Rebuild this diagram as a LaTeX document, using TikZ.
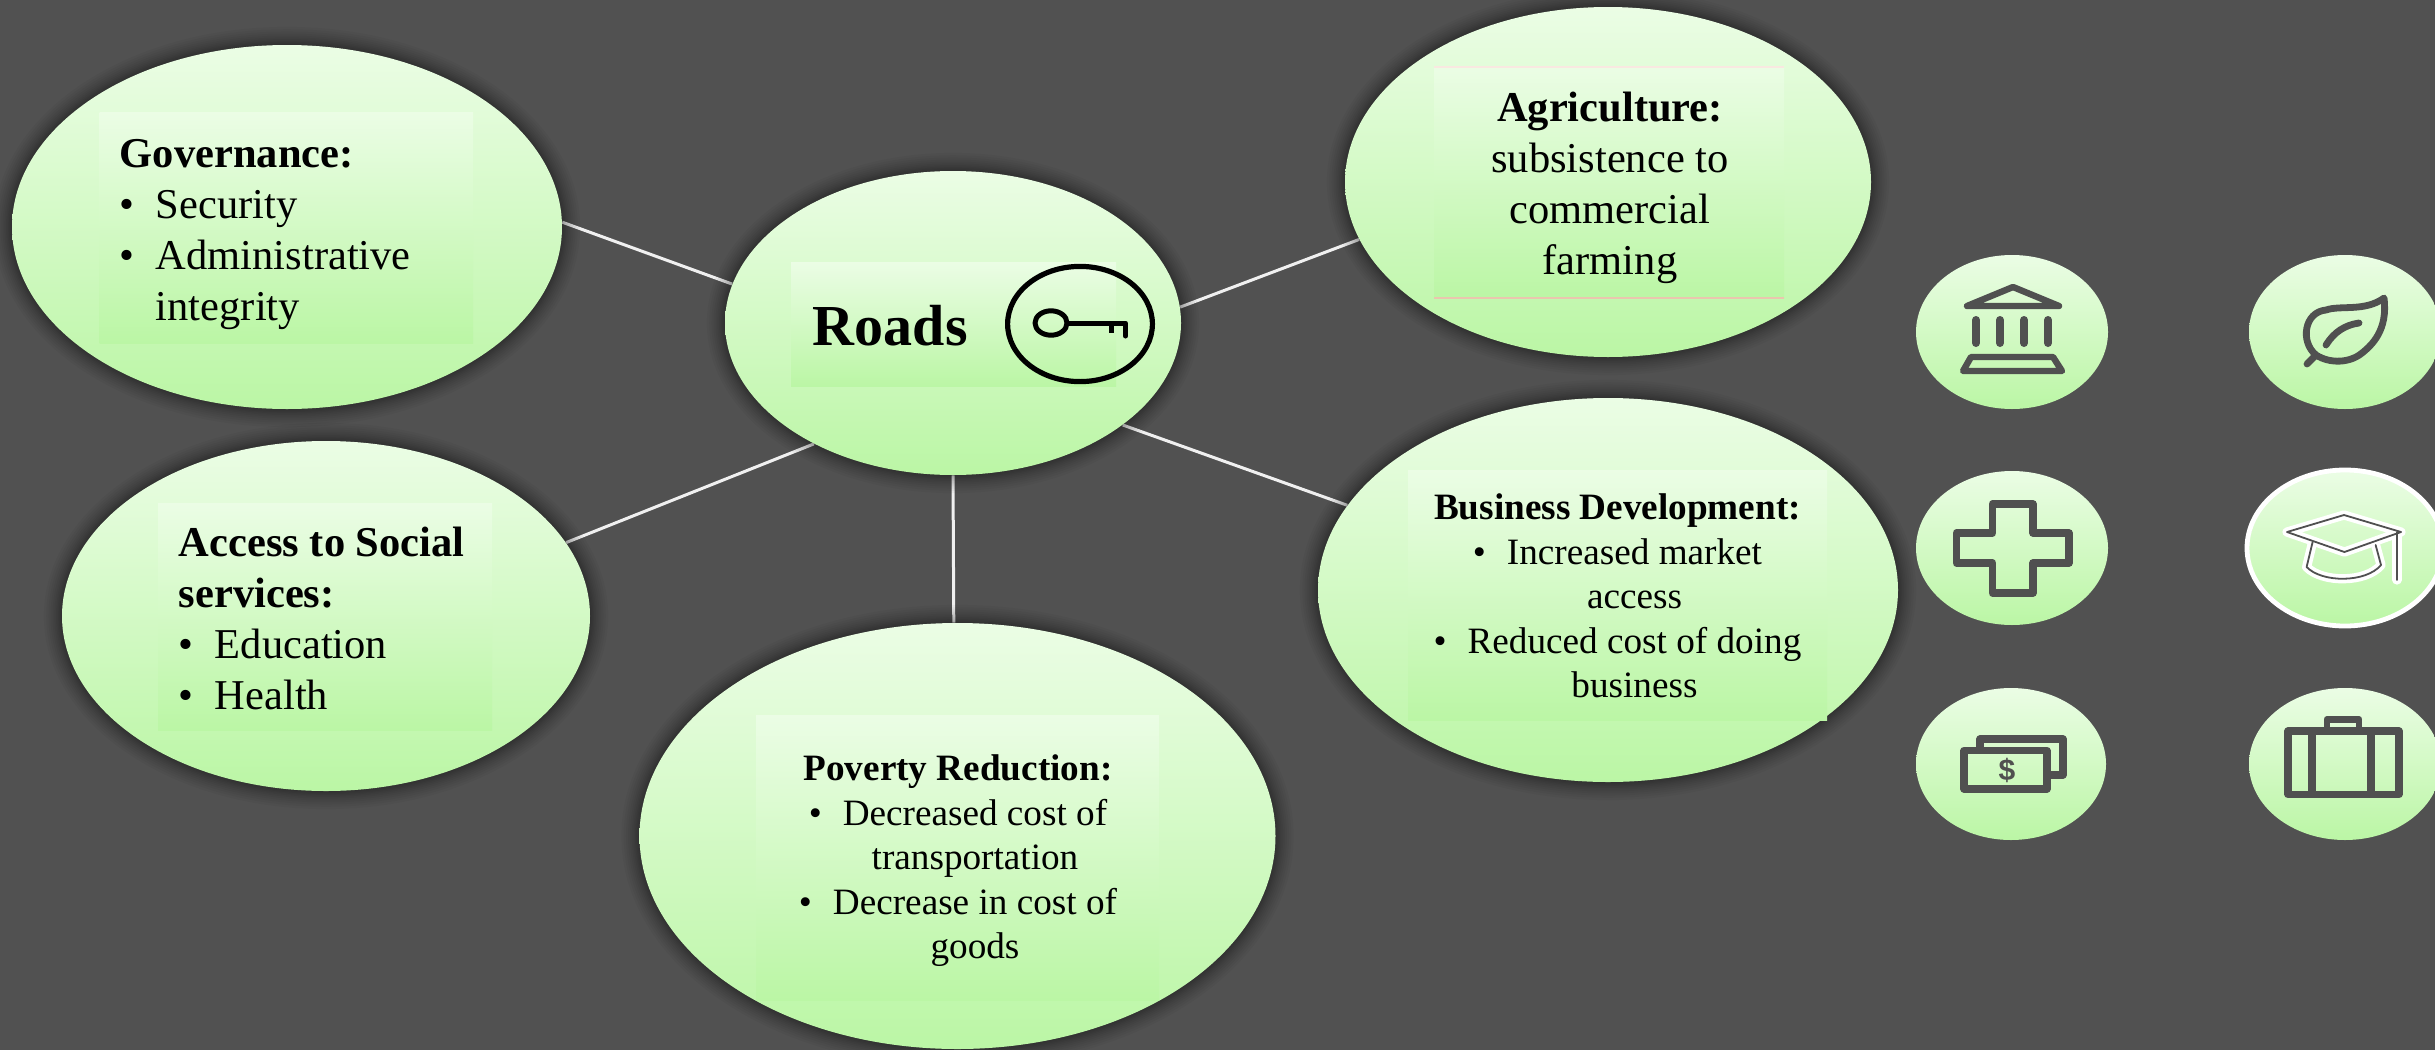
\documentclass[tikz,border=0pt]{standalone}
\usepackage{fontspec}
\usetikzlibrary{shapes.geometric}
\setmainfont{Liberation Serif}
\newfontfamily\iconfont{Liberation Sans}
\definecolor{bgdark}{HTML}{515151}
\definecolor{gtop}{HTML}{EBFDE5}
\definecolor{gbot}{HTML}{BBF6A5}
\definecolor{ink}{HTML}{505050}
\pgfdeclarelayer{wires}
\pgfdeclarelayer{glow}
\pgfsetlayers{wires,glow,main}
\tikzset{
  bubble/.style={ellipse,inner sep=0pt,top color=gtop,bottom color=gbot,draw=none},
  panelfill/.style={top color=gtop,bottom color=gbot,draw=none},
  wire/.style={draw=white!94!black,line width=1.5pt},
  bodytext/.style={inner sep=0pt,text=black,font=\fontsize{21.25}{25.5}\selectfont},
  smalltext/.style={inner sep=0pt,text=black,font=\fontsize{18.6}{22.25}\selectfont},
  icon/.style={draw=ink,line width=3.2pt,line join=round,line cap=round},
  keyline/.style={draw=black,line width=2.6pt,line join=round},
}
\newcommand{\bubblenode}[5]{%
  \begin{pgfonlayer}{glow}
    \foreach \i in {1,...,12}
      \fill[black,opacity=.036] (#2,#3) ellipse [x radius={(#4+\i^1.6*0.34)*0.5pt},y radius={(#5+\i^1.6*0.34)*0.5pt}];
  \end{pgfonlayer}
  \node[bubble,minimum width=#4pt,minimum height=#5pt] (#1) at (#2,#3) {};}
\newcommand{\iconbubble}[5]{\node[bubble,minimum width=#4pt,minimum height=#5pt] (#1) at (#2,#3) {};}
\newcommand{\bul}[1]{\makebox[#1][l]{•}}
\begin{document}
\begin{tikzpicture}[x=0.5pt,y=-0.5pt]
\useasboundingbox (0,0) rectangle (2435,1049);
\begin{pgfonlayer}{wires}
  \fill[bgdark] (-6,-6) rectangle (2441,1055);
\end{pgfonlayer}

% main bubbles
\bubblenode{roads}{953}{323}{228}{152}
\bubblenode{gov}{287}{227}{275}{182}
\bubblenode{agri}{1608}{182}{263}{175}
\bubblenode{access}{326}{616}{264}{175}
\bubblenode{biz}{1608}{590}{290}{192}
\bubblenode{pov}{957.5}{836}{318}{213}

% connectors
\begin{pgfonlayer}{wires}
  \draw[wire] (gov.1) -- (roads.170);
  \draw[wire] (roads.4.3) -- (agri.193.2);
  \draw[wire] (access.17.6) -- (roads.221);
  \draw[wire] (roads.-90) -- (pov.91);
  \draw[wire] (roads.-31.5) -- (biz.162);
\end{pgfonlayer}

% inner panels
\shade[panelfill] (99.5,112) rectangle (473,343);
\shade[panelfill] (791,262) rectangle (1116,386);
\shade[panelfill] (1434,66) rectangle (1784,298);
\fill[red!30!white,opacity=.7] (1434,297) rectangle (1784,299);
\fill[red!12!white,opacity=.7] (1434,65.5) rectangle (1784,67.5);
\shade[panelfill] (158,503) rectangle (492,730);
\shade[panelfill] (1408,470) rectangle (1827,720);
\shade[panelfill] (756,715) rectangle (1159,1000);

% texts
\node[bodytext,anchor=west,align=left] (govtext) at (119.5,233.3) {\strut\textbf{Governance:}\\\bul{18pt}Security\\\bul{18pt}Administrative\\\hspace*{18pt}integrity\strut};
\node[bodytext,anchor=west,align=left] (accesstext) at (178.5,622.3) {\strut\textbf{Access to Social}\\\textbf{services:}\\\bul{18pt}Education\\\bul{18pt}Health\strut};
\node[bodytext,align=center] (agritext) at (1610,187.8) {\strut\textbf{Agriculture:}\\subsistence to\\commercial\\farming\strut};
\node[smalltext,align=center] (biztext) at (1617.5,599.6) {\strut\textbf{Business Development:}\\\bul{17pt}Increased market\\\hspace*{17pt}access\\\bul{17pt}Reduced cost of doing\\\hspace*{17pt}business\strut};
\node[smalltext,align=center] (povtext) at (958,860.6) {\strut\textbf{Poverty Reduction:}\\\bul{17pt}Decreased cost of\\\hspace*{17pt}transportation\\\bul{17pt}Decrease in cost of\\\hspace*{17pt}goods\strut};
\node[inner sep=0pt,anchor=base west,font=\fontsize{29}{34}\selectfont\bfseries] (roadstext) at (812.5,345) {Roads};

% key
\draw[keyline] (1080,324) ellipse [x radius=36.2pt,y radius=28.8pt];
\draw[keyline,line width=2.5pt] (1051,323) ellipse [x radius=8pt,y radius=6.1pt];
\draw[keyline,line width=2.5pt,line cap=round] (1067.5,323) -- (1125.5,323) -- (1125.5,336);
\draw[keyline,line width=2.5pt,line cap=butt] (1111,323) -- (1111,333);

% icon bubbles
\iconbubble{bank}{2012}{332}{96}{77}
\iconbubble{leaf}{2345}{332}{96}{77}
\iconbubble{cross}{2012}{548}{96}{77}
\iconbubble{cap}{2345}{548}{96}{77}
\iconbubble{money}{2011}{764}{95}{76}
\iconbubble{brief}{2345}{764}{96}{76}
\draw[white,line width=2.4pt] (cap.center) ellipse [x radius=49pt,y radius=39pt];

% bank
\draw[icon] (2013,287) -- (1967,306) -- (2059,306) -- cycle;
\foreach \x in {1976,2000,2024,2048} \draw[icon,line width=4pt] (\x,320) -- (\x,343);
\draw[icon] (1971,357) -- (2053,357) -- (2062,371) -- (1963,371) -- cycle;

% leaf
\draw[icon,line width=3.4pt] (2316,355) .. controls (2300,342) and (2304,312) .. (2326,310)
  .. controls (2340,305) and (2365,312) .. (2384,298)
  .. controls (2388,330) and (2372,345) .. (2362,353)
  .. controls (2350,363) and (2330,364) .. (2316,355) -- (2307,364);
\draw[icon,line width=3.4pt] (2326,345) .. controls (2334,332) and (2345,325) .. (2359,323);

% cross
\draw[icon,line width=3.7pt,line cap=butt] (1992.5,504) -- (2033,504) -- (2033,533) -- (2069,533) -- (2069,563) -- (2033,563) -- (2033,593) -- (1992.5,593) -- (1992.5,563) -- (1956.5,563) -- (1956.5,533) -- (1992.5,533) -- cycle;

% graduation cap
\foreach \w/\c in {4.6pt/white,0.9pt/ink}{
  \draw[draw=\c,line width=\w,line join=round,line cap=round] (2287,532) -- (2344,515) -- (2401,532) -- (2344.4,552) -- cycle;
  \draw[draw=\c,line width=\w,line join=round,line cap=round] (2312.6,542) -- (2306.6,567) .. controls (2322,583) and (2366,583) .. (2381,565) -- (2375.6,545);
  \draw[draw=\c,line width=\w,line join=round,line cap=round] (2397,532) -- (2397,580);
}

% money
\draw[icon,line width=3.6pt,line cap=butt] (1980,747) -- (1980,739) -- (2063,739) -- (2063,775) -- (2051,775);
\draw[icon,line width=3.6pt] (1964,750.5) rectangle (2047,789);
\node[inner sep=0pt,text=ink,font=\iconfont\bfseries\fontsize{15}{17}\selectfont] (dollar) at (2007,770) {\$};

% briefcase
\draw[icon,line width=3.6pt] (2288,731) rectangle (2399,794.5);
\draw[icon,line width=3.6pt,line cap=butt] (2312,731) -- (2312,794.5);
\draw[icon,line width=3.6pt,line cap=butt] (2371,731) -- (2371,794.5);
\draw[icon,line width=3.4pt,line cap=butt] (2327,729) -- (2327,719.5) -- (2359,719.5) -- (2359,729);
\end{tikzpicture}
\end{document}
